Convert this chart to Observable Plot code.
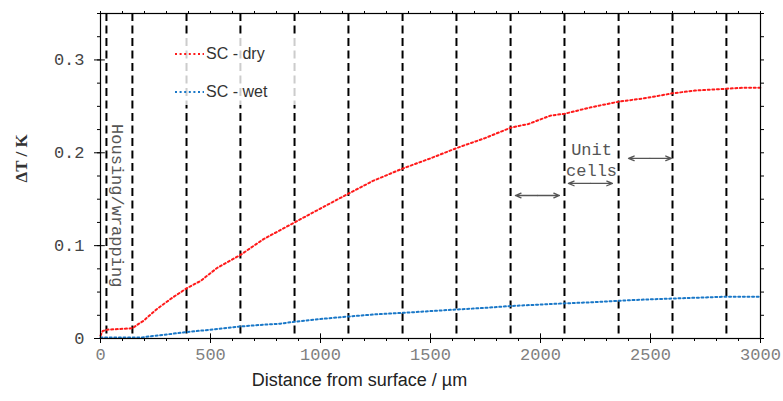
<!DOCTYPE html>
<html>
<head>
<meta charset="utf-8">
<script src="https://cdn.jsdelivr.net/npm/d3@7"></script>
<script src="https://cdn.jsdelivr.net/npm/@observablehq/plot@0.6"></script>
<style>
  html, body { margin: 0; padding: 0; background: #fff; }
  #wrap { position: relative; width: 783px; height: 401px; }
  #legend { position: absolute; left: 172px; top: 36px; width: 128px; height: 69px;
            background: rgba(255,255,255,0.8); font-family: "Liberation Sans", Arial, sans-serif;
            font-size: 16px; color: #333; }
  #legend .row { position: absolute; left: 0; height: 20px; display: flex; align-items: center; }
  #legend svg { display: block; }
</style>
</head>
<body>
<div id="wrap">
  <div id="chart"></div>
  <div id="legend">
    <div class="row" style="top:8px"><svg width="34" height="4"><line x1="3" y1="2" x2="32" y2="2" stroke="#ff1a1a" stroke-width="2" stroke-dasharray="2,2.6"/></svg><span>SC - dry</span></div>
    <div class="row" style="top:46px"><svg width="34" height="4"><line x1="3" y1="2" x2="32" y2="2" stroke="#1a78c8" stroke-width="2" stroke-dasharray="2,2.6"/></svg><span>SC - wet</span></div>
  </div>
</div>
<script>
// ---- data ----
const distDry = [0, 10, 30, 145, 175, 195, 258, 327, 391, 455, 530, 636, 741, 882, 1000, 1127, 1241, 1373, 1500, 1618, 1750, 1864, 1945, 2045, 2109, 2230, 2355, 2480, 2600, 2700, 2845, 2920, 3000];
const dry     = [0.003, 0.008, 0.0095, 0.011, 0.016, 0.019, 0.032, 0.044, 0.054, 0.062, 0.076, 0.090, 0.107, 0.125, 0.140, 0.156, 0.170, 0.183, 0.194, 0.205, 0.216, 0.227, 0.231, 0.240, 0.242, 0.249, 0.255, 0.259, 0.264, 0.267, 0.269, 0.270, 0.270];
const distWet = [0, 50, 190, 250, 305, 395, 509, 636, 750, 818, 882, 1000, 1127, 1250, 1373, 1500, 1614, 1750, 1864, 1950, 2105, 2230, 2350, 2480, 2595, 2720, 2836, 3000];
const wet     = [0.001, 0.001, 0.0012, 0.003, 0.0045, 0.007, 0.0097, 0.013, 0.015, 0.016, 0.018, 0.021, 0.0237, 0.026, 0.0276, 0.0295, 0.0312, 0.033, 0.035, 0.036, 0.0378, 0.039, 0.0406, 0.042, 0.043, 0.044, 0.045, 0.045];
const cellBounds = [27, 145, 391, 636, 882, 1127, 1373, 1618, 1864, 2109, 2355, 2600, 2845];
const xMajor = [0, 500, 1000, 1500, 2000, 2500, 3000];
const yMajor = [0, 0.1, 0.2, 0.3];
const xMinor = d3.range(0, 3001, 100);
const yMinor = d3.range(0, 0.3501, 0.025);
const arrowStart = [1886, 2127, 2400];
const arrowEnd   = [2086, 2327, 2595];
const arrowLevel = [0.154, 0.167, 0.194];
const notes = [
  {text: "Housing/wrapping", x: 77, y: 0.143, rotate: 90},
  {text: "Unit", x: 2232, y: 0.203, rotate: 0},
  {text: "cells", x: 2232, y: 0.181, rotate: 0}
];
const xLabel = "Distance from surface / µm";
const yLabel = "ΔT / K";

const dryData = distDry.map((d, i) => ({x: d, y: dry[i]}));
const wetData = distWet.map((d, i) => ({x: d, y: wet[i]}));
const arrows = arrowStart.map((s, i) => ({s, e: arrowEnd[i], m: (s + arrowEnd[i]) / 2, y: arrowLevel[i]}));

const mono = "'Courier New', 'Liberation Mono', monospace";

const chart = Plot.plot({
  width: 783, height: 401,
  marginLeft: 100, marginRight: 23, marginTop: 13, marginBottom: 63,
  x: {domain: [0, 3000]},
  y: {domain: [0, 0.35]},
  style: {background: "#fff", overflow: "visible"},
  marks: [
    Plot.ruleX(cellBounds, {stroke: "black", strokeWidth: 2, strokeDasharray: "8,4.5"}),
    Plot.line(dryData, {x: "x", y: "y", stroke: "#ff1a1a", strokeWidth: 2, strokeDasharray: "2,2.6"}),
    Plot.line(wetData, {x: "x", y: "y", stroke: "#1a78c8", strokeWidth: 2, strokeDasharray: "2,2.6"}),
    Plot.frame({stroke: "black", strokeWidth: 1.2}),
    // bottom axis
    Plot.axisX({ticks: xMajor, tickSize: 5, tickPadding: 4, tickFormat: d => String(d), label: null,
      fontFamily: mono, fontSize: 17, fill: "#808080", stroke: "black"}),
    Plot.axisX({ticks: xMinor, tickSize: 3, tickFormat: () => "", label: null, stroke: "black"}),
    Plot.ruleX(xMajor, {y1: 0, y2: 0.005, stroke: "black"}),
    // top axis
    Plot.axisX({anchor: "top", ticks: xMinor, tickSize: 3, tickFormat: () => "", label: null, stroke: "black"}),
    // left axis
    Plot.axisY({ticks: yMajor, tickSize: 6, tickPadding: 10, tickFormat: d => d === 0 ? "0" : d.toFixed(1), label: null,
      fontFamily: mono, fontSize: 17, fill: "#444", stroke: "black"}),
    Plot.axisY({ticks: yMinor, tickSize: 3, tickFormat: () => "", label: null, stroke: "black"}),
    Plot.ruleY(yMajor, {x1: 0, x2: 22, stroke: "black"}),
    // right axis
    Plot.axisY({anchor: "right", ticks: yMinor, tickSize: 3, tickFormat: () => "", label: null, stroke: "black"}),
    // annotations
    Plot.text(notes, {x: "x", y: "y", text: "text", rotate: "rotate", fontFamily: mono, fontSize: 17, fill: "#555"}),
    Plot.arrow(arrows, {x1: "m", x2: "s", y1: "y", y2: "y", stroke: "#555", strokeWidth: 1.3, headLength: 7, headAngle: 45}),
    Plot.arrow(arrows, {x1: "m", x2: "e", y1: "y", y2: "y", stroke: "#555", strokeWidth: 1.3, headLength: 7, headAngle: 45}),
    // axis labels
    Plot.text([xLabel], {x: [1177], frameAnchor: "bottom", dy: 47, text: d => d,
      fontFamily: "'Liberation Sans', Arial, sans-serif", fontSize: 18, fill: "#222"}),
    Plot.text([yLabel], {y: [0.168], frameAnchor: "left", dx: -79, rotate: -90, text: d => d,
      fontFamily: "'Liberation Serif', 'Times New Roman', serif", fontWeight: "bold", fontSize: 17, fill: "#333"})
  ]
});
document.getElementById("chart").appendChild(chart);
</script>
</body>
</html>
